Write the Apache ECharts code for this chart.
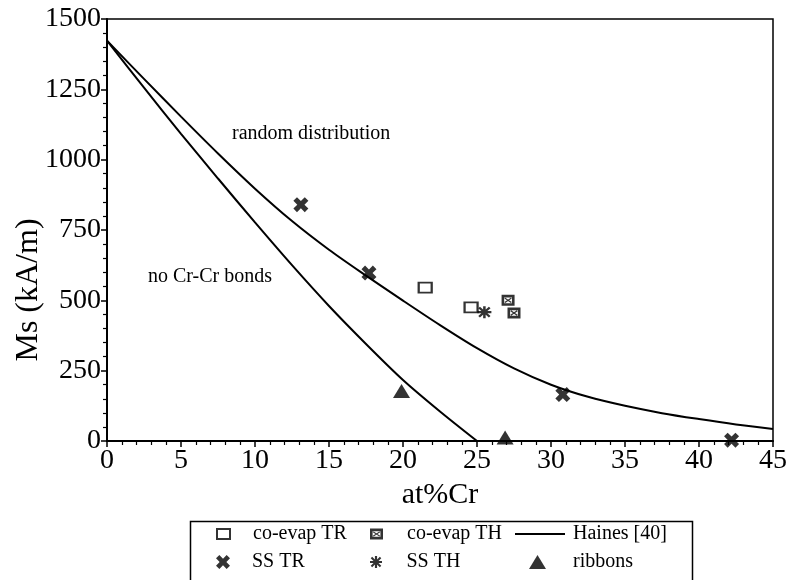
<!DOCTYPE html>
<html>
<head>
<meta charset="utf-8">
<title>Ms vs at%Cr</title>
<script src="https://cdn.jsdelivr.net/npm/echarts@6/dist/echarts.min.js"></script>
<style>
  html, body { margin: 0; padding: 0; background: #fff; }
  #chart { width: 790px; height: 580px; }
</style>
</head>
<body>
<div id="chart"></div>
<script>
// Measured points: [at%Cr, Ms (kA/m)]
const coEvapTR = [[21.5, 545], [24.6, 475]];
const coEvapTH = [[27.1, 500], [27.5, 455]];
const ssTR = [[13.1, 840], [17.7, 597], [30.8, 165], [42.2, 3]];
const ssTH = [[25.5, 458]];
const ribbons = [[19.9, 178], [26.9, 12]];

// Haines [40] model curves
const randomX = [0, 2.5, 5, 7.5, 10, 12.5, 15, 17.5, 20, 22.5, 25, 27.5, 30, 32.5, 35, 37.5, 40, 42.5, 45];
const randomY = [1423, 1287, 1153, 1022, 897, 782, 680, 588, 499, 412, 330, 258, 200, 157, 125, 99, 78, 59, 43];
const noCrCrX = [0, 2.5, 5, 7.5, 10, 12.5, 15, 17.5, 20, 22.5, 25];
const noCrCrY = [1423, 1256, 1092, 933, 777, 625, 480, 345, 217, 105, 0];

const xTicks = { min: 0, max: 45, step: 5 };
const yTicks = { min: 0, max: 1500, step: 250 };

const FONT = '"Liberation Serif", "Times New Roman", serif';

// Marker shapes
const crossPath = 'path://M0,2.4 L2.4,0 L5,2.6 L7.6,0 L10,2.4 L7.4,5 L10,7.6 L7.6,10 L5,7.4 L2.4,10 L0,7.6 L2.6,5 Z';
const starPath = 'path://M0,4.1 L10,4.1 L10,5.9 L0,5.9 Z M4.1,0 L5.9,0 L5.9,10 L4.1,10 Z ' +
  'M0.6,1.8 L1.8,0.6 L9.4,8.2 L8.2,9.4 Z M8.2,0.6 L9.4,1.8 L1.8,9.4 L0.6,8.2 Z';
const boxXPath = 'path://M0,0 L12,0 L12,10 L0,10 Z M2.4,2.4 L2.4,7.6 L9.6,7.6 L9.6,2.4 Z ' +
  'M2.6,3.4 L3.4,2.6 L9.4,6.6 L8.6,7.4 Z M8.6,2.6 L9.4,3.4 L3.4,7.4 L2.6,6.6 Z';
const linePath = 'path://M0,0 L50,0 L50,2 L0,2 Z';

const zip = (xs, ys) => xs.map((x, i) => [x, ys[i]]);

const chart = echarts.init(document.getElementById('chart'), null, { renderer: 'canvas' });

const legendText = (pad) => ({
  fontFamily: FONT, fontSize: 20, color: '#000', padding: [0, 0, 0, pad]
});

const option = {
  animation: false,
  backgroundColor: '#fff',
  grid: {
    left: 107, right: 12, top: 19, bottom: 139,
    show: true, borderColor: '#000', borderWidth: 1.5, backgroundColor: 'transparent'
  },
  xAxis: {
    type: 'value',
    min: xTicks.min, max: xTicks.max, interval: xTicks.step,
    name: 'at%Cr', nameLocation: 'middle', nameGap: 33,
    nameTextStyle: { fontFamily: FONT, fontSize: 30, color: '#000' },
    axisLine: { lineStyle: { color: '#000', width: 2 } },
    axisTick: { length: 6, lineStyle: { color: '#000', width: 1.5 } },
    minorTick: { show: true, splitNumber: 5, length: 4, lineStyle: { color: '#000', width: 1.2 } },
    axisLabel: { fontFamily: FONT, fontSize: 28, color: '#000', margin: 6, formatter: (v) => String(v) },
    splitLine: { show: false }
  },
  yAxis: {
    type: 'value',
    min: yTicks.min, max: yTicks.max, interval: yTicks.step,
    axisLine: { show: true, lineStyle: { color: '#000', width: 2 } },
    axisTick: { show: true, length: 6, lineStyle: { color: '#000', width: 1.5 } },
    minorTick: { show: true, splitNumber: 5, length: 4, lineStyle: { color: '#000', width: 1.2 } },
    axisLabel: { fontFamily: FONT, fontSize: 28, color: '#000', margin: 6, formatter: (v) => String(v) },
    splitLine: { show: false }
  },
  legend: [
    { data: ['co-evap TR'], left: 216, top: 524, padding: 0, itemWidth: 13, itemHeight: 10, textStyle: legendText(18) },
    { data: ['co-evap TH'], left: 370, top: 524, padding: 0, itemWidth: 13, itemHeight: 11, textStyle: legendText(19) },
    { data: [{ name: 'Haines [40]', icon: linePath }], left: 515, top: 524, padding: 0, itemWidth: 50, itemHeight: 2, textStyle: legendText(3) },
    { data: ['SS TR'], left: 216, top: 552, padding: 0, itemWidth: 14, itemHeight: 14, textStyle: legendText(17) },
    { data: ['SS TH'], left: 370, top: 552, padding: 0, itemWidth: 13, itemHeight: 12, textStyle: legendText(19) },
    { data: ['ribbons'], left: 529, top: 552, padding: 0, itemWidth: 17, itemHeight: 14, textStyle: legendText(22) }
  ],
  graphic: [
    {
      type: 'rect', left: 188, top: 519, silent: true,
      shape: { width: 502, height: 64 },
      style: { fill: 'none', stroke: '#000', lineWidth: 1.5 }
    },
    {
      type: 'text', left: 232, top: 124, silent: true,
      style: { text: 'random distribution', font: '20px ' + FONT, fill: '#000' }
    },
    {
      type: 'text', left: 148, top: 267, silent: true,
      style: { text: 'no Cr-Cr bonds', font: '20px ' + FONT, fill: '#000' }
    },
    {
      type: 'text', x: 29, y: 290, rotation: Math.PI / 2, silent: true,
      style: { text: 'Ms (kA/m)', font: '32px ' + FONT, fill: '#000', align: 'center', verticalAlign: 'middle' }
    }
  ],
  series: [
    {
      name: 'Haines [40]', type: 'line', data: zip(randomX, randomY),
      smooth: 0.3, symbol: 'none', lineStyle: { color: '#000', width: 2 }, itemStyle: { color: '#000' }
    },
    {
      name: 'Haines [40]', type: 'line', data: zip(noCrCrX, noCrCrY),
      smooth: 0.3, symbol: 'none', lineStyle: { color: '#000', width: 2 }, itemStyle: { color: '#000' }
    },
    {
      name: 'co-evap TR', type: 'scatter', data: coEvapTR,
      symbol: 'emptyRect', symbolSize: [13, 10],
      itemStyle: { color: '#000', borderColor: '#000', borderWidth: 2 }
    },
    {
      name: 'co-evap TH', type: 'scatter', data: coEvapTH,
      symbol: boxXPath, symbolSize: [13, 11],
      itemStyle: { color: '#000' }
    },
    {
      name: 'SS TR', type: 'scatter', data: ssTR,
      symbol: crossPath, symbolSize: 15,
      itemStyle: { color: '#000' }
    },
    {
      name: 'SS TH', type: 'scatter', data: ssTH,
      symbol: starPath, symbolSize: [14, 12],
      itemStyle: { color: '#000' }
    },
    {
      name: 'ribbons', type: 'scatter', data: ribbons,
      symbol: 'triangle', symbolSize: [17, 14],
      itemStyle: { color: '#000' }
    }
  ]
};

chart.setOption(option);
</script>
</body>
</html>
